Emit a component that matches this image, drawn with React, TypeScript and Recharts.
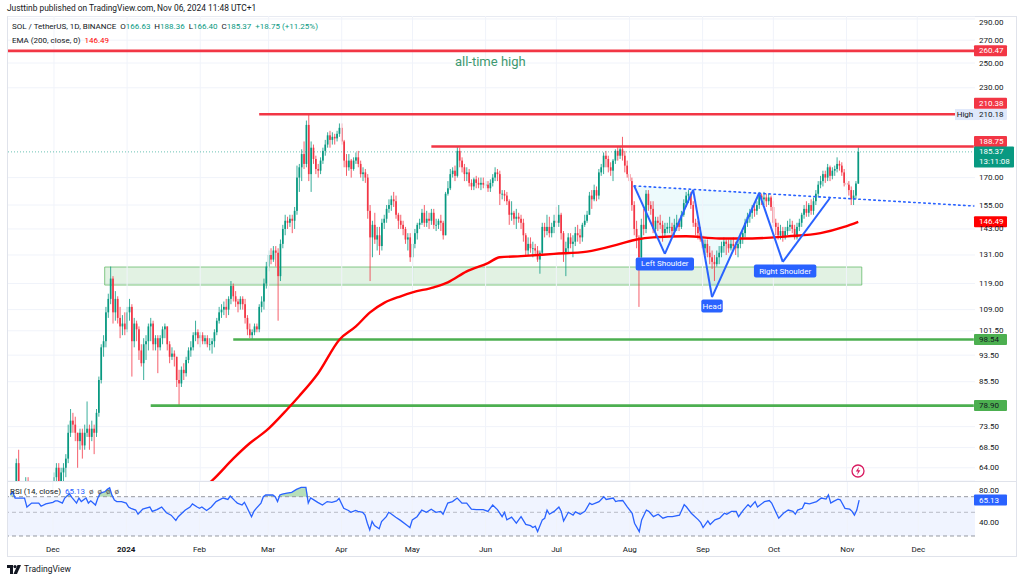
import React from 'react';
import {
  ComposedChart, Bar, Line, Area, XAxis, YAxis, CartesianGrid,
  ReferenceLine, ReferenceArea, ReferenceDot,
} from 'recharts';

const FONT = 'Roboto, "Noto Sans", "DejaVu Sans", sans-serif';
const UP = '#089981';
const DOWN = '#f23645';
const TXT = '#131722';

// Daily candles SOL/USDT, index 1 = 2023-11-13 ... index 360 = 2024-11-06
const firstOpen = 55;
const closes = [
  56, 55, 65, 58, 59, 59, 61, 59, 55, 59,
  57, 59, 58, 56, 56, 59, 59, 60, 62, 64,
  61, 63, 64, 66, 72, 75, 74, 72, 70, 72,
  69, 72, 73, 71, 73, 72, 77, 86, 96, 98,
  108, 113, 121, 108, 113, 106, 103, 104, 102, 108,
  110, 98, 104, 102, 95, 91, 97, 98, 103, 104,
  97, 99, 96, 99, 102, 103, 97, 93, 94, 93,
  86, 85, 89, 88, 92, 95, 96, 100, 101, 99,
  100, 98, 99, 97, 97, 98, 101, 105, 108, 109,
  110, 109, 113, 118, 114, 112, 111, 113, 111, 106,
  102, 100, 101, 103, 102, 110, 112, 119, 126, 131,
  129, 133, 132, 122, 136, 143, 147, 146, 148, 147,
  152, 170, 176, 184, 178, 203, 172, 188, 181, 175,
  174, 180, 186, 190, 196, 193, 195, 194, 197, 201,
  192, 180, 176, 180, 175, 180, 182, 178, 172, 173,
  170, 152, 139, 145, 138, 140, 135, 146, 148, 153,
  155, 158, 157, 150, 147, 145, 143, 138, 139, 130,
  136, 141, 145, 146, 151, 146, 148, 147, 151, 145,
  145, 147, 146, 140, 161, 164, 172, 174, 171, 186,
  180, 176, 172, 173, 167, 165, 169, 167, 166, 167,
  166, 166, 164, 167, 170, 173, 172, 161, 161, 160,
  157, 150, 151, 148, 149, 148, 146, 140, 133, 136,
  134, 134, 133, 129, 132, 144, 142, 144, 141, 144,
  147, 146, 150, 141, 132, 134, 139, 136, 137, 141,
  140, 139, 145, 147, 150, 160, 158, 163, 160, 173,
  176, 183, 181, 176, 174, 180, 186, 183, 187, 183,
  177, 172, 168, 155, 143, 139, 130, 145, 143, 161,
  155, 153, 143, 147, 146, 145, 141, 143, 144, 144,
  142, 145, 146, 144, 150, 156, 160, 161, 155, 146,
  144, 141, 138, 134, 136, 132, 130, 128, 127, 130,
  132, 135, 137, 136, 134, 136, 135, 134, 136, 139,
  141, 146, 149, 151, 153, 152, 155, 160, 158, 159,
  157, 159, 154, 146, 144, 140, 142, 139, 142, 144,
  145, 143, 139, 144, 146, 150, 153, 151, 155, 152,
  157, 161, 166, 168, 172, 170, 176, 171, 174, 175,
  178, 177, 173, 167, 166, 163, 158, 160, 166.63, 185.37,
];
const highs = [
  58, 57, 66, 68, 61, 60, 62, 62, 60, 60,
  60, 61, 60, 59, 58, 61, 61, 61, 63, 65,
  65, 64, 65, 67, 74, 78, 77, 76, 72, 73,
  73, 74, 80, 74, 75, 74, 78, 87, 97, 100,
  110, 115, 126, 122, 116, 114, 110, 107, 108, 110,
  113, 111, 106, 105, 103, 97, 99, 100, 104, 106,
  105, 100, 100, 100, 103, 104, 103, 98, 96, 95,
  93, 89, 90, 91, 93, 96, 98, 101, 105, 102,
  101, 101, 100, 100, 99, 99, 102, 106, 110, 111,
  112, 113, 114, 120, 119, 116, 113, 114, 114, 113,
  107, 104, 102, 104, 104, 111, 114, 121, 128, 133,
  134, 135, 135, 134, 138, 145, 150, 149, 150, 150,
  154, 177, 178, 187, 192, 206, 210, 192, 190, 183,
  178, 182, 188, 193, 198, 199, 198, 197, 199, 204,
  204, 193, 184, 184, 181, 182, 185, 186, 180, 176,
  175, 172, 155, 147, 151, 144, 144, 148, 150, 155,
  158, 160, 162, 160, 151, 150, 147, 144, 141, 141,
  138, 143, 146, 148, 153, 155, 152, 151, 153, 153,
  148, 148, 150, 147, 162, 168, 175, 176, 177, 188.5,
  188, 182, 178, 176, 175, 169, 170, 171, 170, 170,
  170, 168, 168, 169, 172, 176, 175, 174, 163, 163,
  162, 158, 157, 152, 153, 151, 150, 148, 141, 139,
  139, 137, 136, 135, 133, 146, 146, 150, 149, 146,
  150, 154, 155, 151, 142, 137, 141, 141, 140, 144,
  145, 143, 146, 150, 152, 162, 163, 166, 165, 175,
  178, 185, 186, 183, 179, 181, 187, 189, 189, 195,
  186, 180, 174, 170, 157, 147, 140, 148, 153, 163,
  163, 157, 157, 149, 149, 150, 147, 146, 146, 149,
  146, 148, 150, 148, 152, 158, 162, 163, 162, 157,
  148, 147, 144, 140, 138, 138, 135, 133, 131, 133,
  135, 137, 139, 138, 138, 138, 139, 137, 138, 141,
  142, 148, 151, 153, 155, 156, 157, 162, 161, 162,
  161, 161, 160, 157, 148, 146, 145, 144, 144, 147,
  148, 147, 145, 146, 148, 151, 155, 157, 156, 158,
  159, 163, 168, 171, 174, 174, 178, 177, 176, 177,
  182, 180, 179, 175, 170, 168, 165, 163, 168, 188.36,
];
const lows = [
  53, 52, 54, 56, 56, 57, 58, 57, 53, 54,
  56, 56, 57, 55, 54, 55, 58, 58, 59, 61,
  60, 60, 61, 62, 65, 71, 72, 70, 64, 68,
  66, 68, 71, 68, 70, 67, 71, 76, 85, 93,
  96, 106, 111, 104, 105, 104, 99, 100, 100, 101,
  105, 87, 96, 98, 92, 90, 86, 92, 95, 98,
  95, 95, 88, 95, 97, 99, 95, 91, 92, 90,
  84, 79, 84, 86, 87, 91, 93, 95, 98, 97,
  96, 97, 97, 96, 95, 94, 96, 100, 104, 106,
  107, 106, 107, 111, 112, 110, 108, 109, 109, 104,
  100, 99, 98.5, 100, 101, 101, 108, 109, 117, 124,
  127, 128, 126, 105, 120, 134, 140, 143, 144, 141,
  143, 150, 162, 168, 175, 176, 168, 162, 178, 172,
  170, 172, 178, 183, 188, 188, 190, 190, 192, 195,
  190, 176, 171, 174, 170, 174, 178, 176, 170, 168,
  167, 148, 120, 130, 136, 133, 131, 133, 143, 146,
  151, 152, 154, 148, 143, 143, 140, 136, 133, 128,
  120, 134, 138, 143, 145, 144, 144, 143, 145, 143,
  142, 143, 142, 138, 140, 160, 163, 170, 168, 170,
  176, 173, 168, 168, 165, 163, 163, 164, 164, 163,
  164, 164, 162, 162, 165, 168, 168, 155, 158, 157,
  155, 145, 147, 145, 143, 146, 143, 137, 131, 131,
  132, 130, 131, 128, 123, 131, 139, 140, 139, 139,
  141, 144, 144, 138, 128, 122, 132, 134, 130, 135,
  137, 136, 137, 144, 146, 150, 153, 157, 157, 158,
  171, 172, 176, 173, 171, 168, 178, 180, 181, 180,
  173, 170, 160, 152, 140, 134, 110, 128, 140, 141,
  152, 150, 141, 139, 142, 143, 137, 139, 141, 141,
  139, 140, 142, 142, 143, 149, 154, 156, 153, 144,
  140, 138, 137, 131, 131, 130, 127, 125, 120, 126,
  127, 130, 132, 131, 132, 133, 133, 131, 130, 134,
  136, 139, 144, 146, 148, 149, 150, 153, 155, 155,
  154, 155, 152, 144, 140, 138, 138, 137, 138, 140,
  142, 141, 138, 138, 142, 144, 148, 149, 149, 150,
  150, 155, 159, 164, 165, 167, 168, 168, 169, 171,
  173, 174, 171, 165, 162, 160, 155, 155, 158, 166.4,
];

// EMA(200): [day index, value]
const emaPoints: [number, number][] = [
  [78, 58.5], [86, 61.3], [95, 66], [102, 69.5], [109, 72.5], [118, 78], [123, 81.5],
  [131, 88], [140, 98.5], [147, 103], [153, 108], [159, 111.5], [166, 114], [171, 115.5],
  [180, 117.5], [186, 119.5], [194, 124], [203, 127.5], [208, 130], [217, 130.5],
  [231, 131.5], [245, 132.5], [259, 136], [266, 138], [273, 139], [287, 139.5],
  [301, 138.5], [315, 138.5], [330, 139.5], [344, 141], [354, 144], [360, 146.49],
];

// RSI(14): [day index, value]
const rsiPoints: [number, number][] = [
  [1, 73], [2, 77], [3, 68], [5, 68], [7, 68], [8, 56], [10, 61], [13, 61], [14, 57], [16, 60],
  [19, 62], [20, 64], [21, 64], [23, 61], [24, 68], [26, 74.5], [27, 69], [29, 61], [30, 68], [31, 63],
  [33, 68], [34, 61], [35, 64], [37, 58.5], [38, 68], [39, 75.5], [41, 78], [42, 82], [43, 85], [44, 72],
  [45, 65], [46, 63], [48, 63], [50, 61], [51, 56], [52, 54.5], [54, 52.5], [55, 48], [57, 53.5], [58, 54.5],
  [60, 56], [61, 51], [63, 53], [64, 54.5], [65, 56], [67, 49.5], [69, 47], [71, 42], [72, 45.5], [74, 50],
  [75, 52.5], [77, 56], [78, 60], [80, 56], [81, 54.5], [82, 56], [84, 52], [86, 56], [88, 63], [91, 68],
  [93, 66], [94, 71], [96, 64], [97, 61], [99, 58.5], [100, 62], [101, 56], [103, 45.5], [104, 51], [105, 54.5],
  [107, 61], [108, 70], [109, 72.6], [112, 72.6], [113, 70], [114, 63], [115, 72.6], [116, 74], [118, 75.5], [120, 77],
  [122, 82], [124, 85.5], [126, 85.5], [127, 61], [128, 68], [129, 66], [131, 62], [133, 58.5], [135, 63], [137, 62],
  [139, 64], [140, 67.5], [142, 54.5], [144, 52], [145, 50], [147, 52], [148, 51], [150, 50], [151, 47], [152, 39.5],
  [153, 34.2], [154, 41], [155, 37.5], [157, 35], [158, 41], [160, 45.5], [161, 50], [162, 48.5], [164, 45], [166, 42],
  [169, 37.5], [170, 36], [171, 42.5], [173, 45.5], [175, 52.5], [177, 50], [179, 53.5], [181, 50], [183, 51], [184, 48],
  [186, 61], [188, 63], [190, 68], [192, 61], [194, 61], [196, 53.5], [198, 53], [201, 53], [203, 51], [205, 58.5],
  [207, 53], [209, 45.5], [210, 50], [211, 42.5], [213, 45], [215, 39.5], [216, 42.5], [217, 45.5], [219, 38.5], [221, 37.5],
  [222, 36], [223, 37], [224, 33], [226, 42.5], [227, 44], [228, 52.5], [229, 48], [231, 51], [233, 56], [234, 51],
  [235, 41.5], [237, 50], [239, 47], [240, 50.5], [242, 48], [244, 51], [246, 61], [247, 59], [250, 63], [252, 70],
  [253, 66], [256, 68], [257, 63], [258, 64], [260, 64.5], [262, 56], [264, 49], [265, 39.5], [267, 33], [268, 42.5],
  [270, 52.5], [271, 51], [273, 45.5], [275, 48], [277, 44], [279, 45.5], [281, 45.5], [284, 47], [285, 52.5], [286, 59],
  [287, 56], [289, 49], [292, 42.5], [293, 40], [294, 36], [296, 41.5], [297, 38.5], [299, 42.5], [301, 44], [303, 49],
  [304, 48], [306, 51], [308, 51], [309, 45.5], [311, 52.5], [313, 59], [314, 56], [316, 63], [317, 56], [320, 63],
  [322, 64.5], [323, 61], [325, 49], [326, 44], [328, 49], [330, 52.5], [332, 51], [333, 48], [334, 52.5], [336, 54.5],
  [337, 61], [339, 60], [342, 63], [344, 68], [346, 66.5], [347, 72.6], [348, 61], [349, 63], [351, 66.5], [352, 65.5],
  [354, 54.5], [356, 53.5], [357, 51], [358, 47], [359, 52.5], [360, 65.13],
];

const monthTicks = [19, 50, 81, 110, 141, 171, 202, 232, 263, 294, 324, 355, 385];
const monthLabels = ['Dec', '2024', 'Feb', 'Mar', 'Apr', 'May', 'Jun', 'Jul', 'Aug', 'Sep', 'Oct', 'Nov', 'Dec'];
const priceTicks = [64, 68.5, 73.5, 85.5, 93.5, 101.5, 109, 119, 131, 143, 155, 170, 230, 250, 270, 290];
const rsiTicks = [40, 80];

// drawn levels & pattern: [day index, price]
const athLevel = 260.47;
const resistance1 = { from: 106, value: 210.38 };
const resistance2 = { from: 179, value: 188.75 };
const support1 = { from: 95, value: 98.54 };
const support2 = { from: 60, value: 78.9 };
const zone = { from: 41, to: 361, low: 118.4, high: 125.8 };
const neckline: [number, number][] = [[265, 165.3], [409, 154.5]];
const hsPath: [number, number][] = [
  [265, 165.3], [278, 131.5], [290, 163.1], [298, 113.7], [318, 161.4], [328, 128], [348, 158.7],
];
const hsFills: [number, number][][] = [
  [[265, 165.3], [278, 131.5], [290, 163.1]],
  [[290, 163.1], [298, 113.7], [318, 161.4]],
];
const hsLabels: { i: number; v: number; text: string }[] = [
  { i: 278, v: 127.1, text: 'Left Shoulder' },
  { i: 298, v: 110.3, text: 'Head' },
  { i: 329, v: 124.1, text: 'Right Shoulder' },
];

const TOTAL = 410;
const LAST = TOTAL - 1;

const data: any[] = Array.from({ length: TOTAL }, (_, i) => {
  const row: any = { i };
  if (i >= 1 && i <= closes.length) {
    const c = closes[i - 1];
    const o = i === 1 ? firstOpen : closes[i - 2];
    row.o = o;
    row.c = c;
    row.hl = [Math.min(lows[i - 1], o, c), Math.max(highs[i - 1], o, c)];
  }
  return row;
});
emaPoints.forEach(([i, v]) => { data[i].ema = v; });
rsiPoints.forEach(([i, v]) => { data[i].rsi = v; data[i].ob = [70, Math.max(70, v)]; });

const Candle = (props: any) => {
  const { x, y, width, height, payload } = props;
  if (!payload || payload.o == null || !payload.hl) return null;
  const [lo, hi] = payload.hl;
  const L = Math.log(hi) - Math.log(lo);
  const py = (v: number) => (L === 0 ? y : y + (height * (Math.log(hi) - Math.log(v))) / L);
  const cx = x + width / 2;
  const up = payload.c >= payload.o;
  const color = up ? UP : DOWN;
  const top = py(Math.max(payload.o, payload.c));
  const bot = py(Math.min(payload.o, payload.c));
  const bw = 1.7;
  return (
    <g>
      <line x1={cx} x2={cx} y1={y} y2={y + height} stroke={color} strokeWidth={0.8} />
      <rect x={cx - bw / 2} y={top} width={bw} height={Math.max(0.8, bot - top)} fill={color} />
    </g>
  );
};

const Tag = ({ viewBox, text, text2, bg, fg, dy = 0, left }: any) => {
  if (!viewBox) return null;
  const x = viewBox.x + viewBox.width;
  const y = viewBox.y + dy;
  const h = text2 ? 21 : 11;
  const w = text2 ? 40 : 33;
  return (
    <g>
      {left && (
        <g>
          <rect x={x - 20} y={y - 5.5} width={20} height={11} fill={bg} />
          <text x={x - 10} y={y} textAnchor="middle" dominantBaseline="central" fontSize={8} fill={fg}>{left}</text>
        </g>
      )}
      <rect x={x - 1} y={y - 5.5} width={w} height={h} fill={bg} rx={1} />
      <text x={x + 4} y={y} dominantBaseline="central" fontSize={8} fill={fg}>{text}</text>
      {text2 && <text x={x + 4} y={y + 10} dominantBaseline="central" fontSize={8} fill={fg}>{text2}</text>}
    </g>
  );
};

const PriceTick = (p: any) => (
  <text x={p.x} y={Math.max(p.y, 6)} dominantBaseline="central" fontSize={8} fill={TXT}>
    {Number(p.payload.value).toFixed(2)}
  </text>
);

const MonthTick = (p: any) => {
  const idx = monthTicks.indexOf(Number(p.payload.value));
  const label = idx >= 0 ? monthLabels[idx] : '';
  return (
    <text x={p.x} y={p.y + 12} textAnchor="middle" dominantBaseline="central" fontSize={8}
      fontWeight={label === '2024' ? 700 : 400} fill={TXT}>{label}</text>
  );
};

const polyShape = (verts: [number, number][]) => (p: any) => {
  const { x, y, width, height } = p;
  const is = verts.map((v) => v[0]);
  const vs = verts.map((v) => v[1]);
  const x1 = Math.min(...is), x2 = Math.max(...is);
  const lo = Math.min(...vs), hi = Math.max(...vs);
  const band = width / (x2 - x1 + 1);
  const px = (i: number) => x + (i - x1 + 0.5) * band;
  const py = (v: number) => y + (height * (Math.log(hi) - Math.log(v))) / (Math.log(hi) - Math.log(lo));
  const pts = verts.map(([i, v]) => `${px(i)},${py(v)}`).join(' ');
  return <polygon points={pts} fill="#00bcd4" fillOpacity={0.07} stroke="none" />;
};

const HsLabel = (text: string) => (p: any) => {
  const w = text.length * 4.1 + 5;
  return (
    <g>
      <rect x={p.cx - w / 2} y={p.cy - 6.5} width={w} height={13} rx={2} fill="#2962ff" />
      <text x={p.cx} y={p.cy} textAnchor="middle" dominantBaseline="central" fontSize={8} fill="#fff">{text}</text>
    </g>
  );
};

const AthText = (p: any) => (
  <text x={p.cx} y={p.cy} textAnchor="middle" dominantBaseline="central" fontSize={13} fill="#3d9970">all-time high</text>
);

const GRID = '#f0f3fa';

export default function App() {
  return (
    <div style={{ position: 'absolute', left: 0, top: 0, width: 1024, height: 581, background: '#fff', overflow: 'hidden', fontFamily: FONT }}>
      <div style={{ position: 'absolute', left: 7, top: 3, fontSize: 8.4, color: TXT, whiteSpace: 'nowrap' }}>
        Justtinb published on TradingView.com, Nov 06, 2024 11:48 UTC+1
      </div>
      <div style={{ position: 'absolute', left: 7, top: 16, width: 1010, height: 541, border: '1px solid #e0e3eb', boxSizing: 'border-box' }} />
      <div style={{ position: 'absolute', left: 7, top: 481, width: 1010, height: 1, background: '#e0e3eb' }} />

      <div style={{ position: 'absolute', left: 0, top: 16 }}>
        <ComposedChart width={1024} height={465} data={data} margin={{ top: 0, right: 0, left: 8, bottom: 0 }}>
          <CartesianGrid vertical={false} stroke={GRID} />
          <XAxis dataKey="i" type="category" hide />
          <YAxis orientation="right" width={49} scale="log" domain={[61.21, 292.9]} allowDataOverflow
            ticks={priceTicks} interval={0} tick={<PriceTick />} tickLine={false} axisLine={false} tickSize={0} tickMargin={4} />
          {monthTicks.map((m) => <ReferenceLine key={'v' + m} x={m} stroke={GRID} />)}

          <ReferenceArea x1={zone.from} x2={zone.to} y1={zone.low} y2={zone.high} fill="#4caf50" fillOpacity={0.16}
            stroke="#66bb6a" strokeOpacity={0.8} strokeWidth={1} />
          {hsFills.map((f, k) => (
            <ReferenceArea key={'f' + k}
              x1={Math.min(...f.map((v) => v[0]))} x2={Math.max(...f.map((v) => v[0]))}
              y1={Math.min(...f.map((v) => v[1]))} y2={Math.max(...f.map((v) => v[1]))}
              shape={polyShape(f)} />
          ))}

          <ReferenceLine y={185.37} stroke={UP} strokeOpacity={0.6} strokeDasharray="1 2" />
          <ReferenceLine y={athLevel} stroke={DOWN} strokeWidth={2.6} />
          <ReferenceLine segment={[{ x: resistance1.from, y: resistance1.value }, { x: LAST, y: resistance1.value }]} stroke={DOWN} strokeWidth={2.6} />
          <ReferenceLine segment={[{ x: resistance2.from, y: resistance2.value }, { x: LAST, y: resistance2.value }]} stroke={DOWN} strokeWidth={2.6} />
          <ReferenceLine segment={[{ x: support1.from, y: support1.value }, { x: LAST, y: support1.value }]} stroke="#4caf50" strokeWidth={2.6} />
          <ReferenceLine segment={[{ x: support2.from, y: support2.value }, { x: LAST, y: support2.value }]} stroke="#4caf50" strokeWidth={2.6} />

          <Bar dataKey="hl" shape={(p: any) => <Candle {...p} />} isAnimationActive={false} />
          <Line dataKey="ema" stroke="#ff0000" strokeWidth={2.4} dot={false} connectNulls type="monotone" isAnimationActive={false} />

          <ReferenceLine segment={[{ x: neckline[0][0], y: neckline[0][1] }, { x: neckline[1][0], y: neckline[1][1] }]}
            stroke="#2962ff" strokeWidth={1.6} strokeDasharray="1.5 3.5" strokeLinecap="round" />
          {hsPath.slice(1).map((pt, k) => (
            <ReferenceLine key={'hs' + k} segment={[{ x: hsPath[k][0], y: hsPath[k][1] }, { x: pt[0], y: pt[1] }]}
              stroke="#2962ff" strokeWidth={2} />
          ))}
          {hsLabels.map((l) => (
            <ReferenceDot key={l.text} x={l.i} y={l.v} r={1} shape={HsLabel(l.text)} />
          ))}
          <ReferenceDot x={204} y={250.9} r={1} shape={AthText} />

          <ReferenceLine y={athLevel} stroke="none" label={(p: any) => <Tag viewBox={p.viewBox} text="260.47" bg={DOWN} fg="#fff" />} />
          <ReferenceLine y={210.38} stroke="none" label={(p: any) => <Tag viewBox={p.viewBox} text="210.38" bg={DOWN} fg="#fff" dy={-11} />} />
          <ReferenceLine y={210.18} stroke="none" label={(p: any) => <Tag viewBox={p.viewBox} text="210.18" bg="#dfe8fb" fg={TXT} left="High" />} />
          <ReferenceLine y={188.75} stroke="none" label={(p: any) => <Tag viewBox={p.viewBox} text="188.75" bg={DOWN} fg="#fff" dy={-5} />} />
          <ReferenceLine y={185.37} stroke="none" label={(p: any) => <Tag viewBox={p.viewBox} text="185.37" text2="13:11:08" bg={UP} fg="#fff" />} />
          <ReferenceLine y={146.49} stroke="none" label={(p: any) => <Tag viewBox={p.viewBox} text="146.49" bg="#ff0000" fg="#fff" />} />
          <ReferenceLine y={98.54} stroke="none" label={(p: any) => <Tag viewBox={p.viewBox} text="98.54" bg="#4caf50" fg={TXT} />} />
          <ReferenceLine y={78.9} stroke="none" label={(p: any) => <Tag viewBox={p.viewBox} text="78.90" bg="#4caf50" fg={TXT} />} />
        </ComposedChart>
      </div>

      <div style={{ position: 'absolute', left: 0, top: 482 }}>
        <ComposedChart width={1024} height={75} data={data} margin={{ top: 0, right: 0, left: 8, bottom: 0 }}>
          <XAxis dataKey="i" type="category" ticks={monthTicks} interval={0} tick={<MonthTick />}
            tickLine={false} axisLine={false} height={20} tickSize={0} tickMargin={0} />
          <YAxis orientation="right" width={49} scale="log" domain={[29.36, 96.1]} allowDataOverflow
            ticks={rsiTicks} interval={0} tick={<PriceTick />} tickLine={false} axisLine={false} tickSize={0} tickMargin={4} />
          {monthTicks.map((m) => <ReferenceLine key={'rv' + m} x={m} stroke={GRID} />)}
          <ReferenceArea y1={30} y2={70} fill="#2962ff" fillOpacity={0.07} />
          <ReferenceLine y={70} stroke="#9598a1" strokeDasharray="4 3" />
          <ReferenceLine y={50} stroke="#9598a1" strokeOpacity={0.6} strokeDasharray="4 3" />
          <ReferenceLine y={30} stroke="#9598a1" strokeDasharray="4 3" />
          <Area dataKey="ob" stroke="none" fill="#4caf50" fillOpacity={0.4} connectNulls isAnimationActive={false} />
          <Line dataKey="rsi" stroke="#2962ff" strokeWidth={1.3} dot={false} connectNulls isAnimationActive={false} />
          <ReferenceLine y={65.13} stroke="none" label={(p: any) => <Tag viewBox={p.viewBox} text="65.13" bg="#2962ff" fg="#fff" />} />
        </ComposedChart>
      </div>

      <div style={{ position: 'absolute', left: 12, top: 20, fontSize: 8, color: TXT, whiteSpace: 'nowrap', lineHeight: '14px' }}>
        <div>
          SOL / TetherUS, 1D, BINANCE{'  '}
          <span>&nbsp;O</span><span style={{ color: UP }}>166.63</span>
          <span>&nbsp;&nbsp;H</span><span style={{ color: UP }}>188.36</span>
          <span>&nbsp;&nbsp;L</span><span style={{ color: UP }}>166.40</span>
          <span>&nbsp;&nbsp;C</span><span style={{ color: UP }}>185.37</span>
          <span style={{ color: UP }}>&nbsp;&nbsp;+18.75 (+11.25%)</span>
        </div>
        <div>EMA (200, close, 0) <span style={{ color: '#ff0000' }}>&nbsp;146.49</span></div>
      </div>
      <div style={{ position: 'absolute', left: 10, top: 487, fontSize: 8, color: TXT, whiteSpace: 'nowrap' }}>
        RSI (14, close) <span style={{ color: '#2962ff' }}>&nbsp;65.13</span>
        <span style={{ color: '#555' }}>&nbsp;&nbsp;ø&nbsp;&nbsp;ø&nbsp;&nbsp;ø&nbsp;&nbsp;ø</span>
      </div>

      <svg style={{ position: 'absolute', left: 851, top: 464 }} width={14} height={14}>
        <circle cx={7} cy={7} r={6} fill="#fff" stroke="#d81b60" strokeWidth={1.3} />
        <path d="M8 2.8 L4.8 7.6 H7 L6 11.2 L9.4 6.3 H7.2 Z" fill="#d81b60" />
      </svg>

      <div style={{ position: 'absolute', left: 7, top: 564, display: 'flex', alignItems: 'center', fontSize: 8.5, color: TXT }}>
        <svg width={14} height={9} style={{ marginRight: 3 }}>
          <path d="M0 0 H6 V9 H3 V3 H0 Z" fill={TXT} />
          <circle cx={8} cy={1.6} r={1.6} fill={TXT} />
          <path d="M10.5 0 H14 L10 9 H6.5 Z" fill={TXT} />
        </svg>
        TradingView
      </div>
    </div>
  );
}
